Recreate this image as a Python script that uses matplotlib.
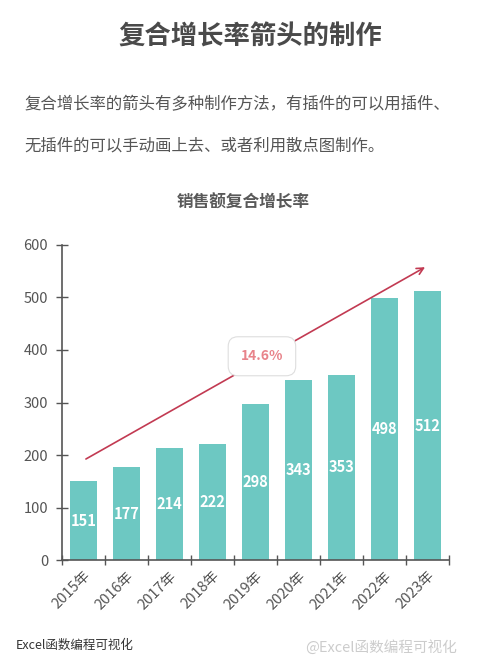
import matplotlib
matplotlib.use("Agg")
import matplotlib.pyplot as plt
import numpy as np

plt.rcParams['font.family'] = ['Noto Sans CJK SC', 'DejaVu Sans']

# data
years = ['2015年', '2016年', '2017年', '2018年', '2019年', '2020年', '2021年', '2022年', '2023年']
sales = [151, 177, 214, 222, 298, 343, 353, 498, 512]
cagr_label = '14.6%'
arrow_start = (0, 190)
arrow_end = (8, 560)
label_pos = (4.15, 388)

bar_color = '#6dc8c2'
arrow_color = '#c23a52'
axis_color = '#555555'

fig = plt.figure(figsize=(5, 6.67), dpi=100)
ax = fig.add_axes([0.124, 0.160, 0.774, 0.473])

x = np.arange(len(years))
bars = ax.bar(x, sales, width=0.62, color=bar_color, zorder=2)

# value labels inside bars
for xi, v in zip(x, sales):
    ax.text(xi, v / 2, str(v), ha='center', va='center', color='white',
            fontsize=10.5, fontweight='bold', zorder=3)

# growth arrow
ax.annotate('', xy=arrow_end, xytext=arrow_start,
            arrowprops=dict(arrowstyle='->', color=arrow_color, lw=1.2,
                            mutation_scale=12), zorder=4)
ax.text(label_pos[0], label_pos[1], cagr_label, ha='center', va='center',
        color='#e8838a', fontsize=10, fontweight='bold', zorder=5,
        bbox=dict(boxstyle='round,pad=0.9,rounding_size=0.7', fc='white',
                  ec='#dedede', lw=0.8))

ax.set_xlim(-0.5, len(years) - 0.5)
ax.set_ylim(0, 600)
ax.set_yticks(np.arange(0, 601, 100))
ax.set_xticks(x)
ax.set_xticklabels(years, rotation=45, ha='right', rotation_mode='anchor')
ax.set_xticks(np.arange(-0.5, len(years)), minor=True)
ax.tick_params(axis='x', which='major', length=0, pad=6, labelsize=10.5, labelcolor=axis_color)
ax.tick_params(axis='x', which='minor', length=7, direction='inout', color=axis_color, width=1)
ax.tick_params(axis='y', length=8, direction='inout', color=axis_color, width=1,
               labelsize=10.5, labelcolor=axis_color, pad=6)

for s in ['top', 'right']:
    ax.spines[s].set_visible(False)
for s in ['left', 'bottom']:
    ax.spines[s].set_color(axis_color)
    ax.spines[s].set_linewidth(1.2)

# texts
fig.text(0.5, 0.945, '复合增长率箭头的制作', ha='center', va='center',
         fontsize=19, fontweight='bold', color='#4a4a4a')
fig.text(0.048, 0.843, '复合增长率的箭头有多种制作方法，有插件的可以用插件、',
         ha='left', va='center', fontsize=11.8, color='#555555')
fig.text(0.048, 0.781, '无插件的可以手动画上去、或者利用散点图制作。',
         ha='left', va='center', fontsize=11.8, color='#555555')
fig.text(0.486, 0.696, '销售额复合增长率', ha='center', va='center',
         fontsize=12, fontweight='bold', color='#595959')
fig.text(0.032, 0.033, 'Excel函数编程可视化', ha='left', va='center',
         fontsize=9, color='#333333')
fig.text(0.61, 0.030, '@Excel函数编程可视化', ha='left', va='center',
         fontsize=10.5, color='#cccccc')

fig.savefig('out.png', dpi=100)
